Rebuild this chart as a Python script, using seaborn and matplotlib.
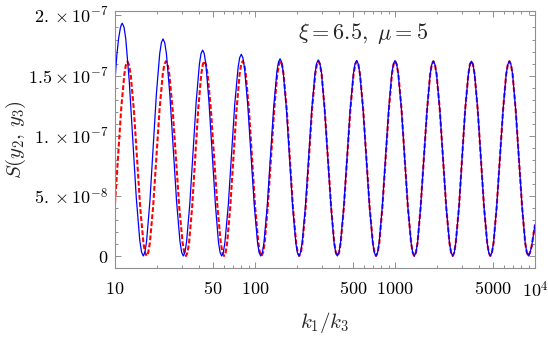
import numpy as np
import pandas as pd
import matplotlib
matplotlib.use("Agg")
import matplotlib.pyplot as plt
from matplotlib.ticker import FixedLocator, FixedFormatter, NullFormatter
import seaborn as sns

# ---- data (x as log10(k1/k3), y in units of 1e-7) ----
blue_log_k = [
    1.000, 1.013, 1.026, 1.039, 1.046, 1.052,
    1.0645, 1.077, 1.102, 1.127, 1.152, 1.177, 1.1895, 1.202,
    1.2138, 1.2255, 1.249, 1.2725, 1.296, 1.3195, 1.3313, 1.343,
    1.3551, 1.367, 1.391, 1.4155, 1.440, 1.464, 1.4759, 1.488,
    1.4995, 1.511, 1.534, 1.557, 1.580, 1.603, 1.6145, 1.626,
    1.6373, 1.649, 1.671, 1.694, 1.717, 1.739, 1.7507, 1.762,
    1.7737, 1.785, 1.809, 1.832, 1.855, 1.879, 1.8903, 1.902,
    1.9136, 1.925, 1.948, 1.9715, 1.995, 2.018, 2.0294, 2.041,
    2.0525, 2.064, 2.087, 2.110, 2.133, 2.156, 2.1675, 2.179,
    2.1903, 2.2015, 2.224, 2.2465, 2.269, 2.2915, 2.3028, 2.314,
    2.3255, 2.337, 2.360, 2.383, 2.406, 2.429, 2.4405, 2.452,
    2.4633, 2.475, 2.497, 2.520, 2.543, 2.565, 2.5767, 2.588,
    2.5995, 2.611, 2.634, 2.657, 2.680, 2.703, 2.7145, 2.726,
    2.7375, 2.749, 2.772, 2.795, 2.818, 2.841, 2.8525, 2.864,
    2.8753, 2.887, 2.909, 2.932, 2.955, 2.977, 2.9887, 3.000,
    3.0115, 3.023, 3.046, 3.069, 3.092, 3.115, 3.1265, 3.138,
    3.1493, 3.161, 3.183, 3.206, 3.229, 3.251, 3.2627, 3.274,
    3.2855, 3.297, 3.320, 3.343, 3.366, 3.389, 3.4005, 3.412,
    3.4232, 3.434, 3.457, 3.479, 3.501, 3.524, 3.5348, 3.546,
    3.5573, 3.5685, 3.591, 3.6135, 3.636, 3.6585, 3.6698, 3.681,
    3.6923, 3.704, 3.726, 3.749, 3.772, 3.794, 3.8057, 3.817,
    3.8283, 3.840, 3.862, 3.885, 3.908, 3.930, 3.9417, 3.953,
    3.9643, 3.976, 4.000,
]
blue_S_e7 = [
    1.46, 1.67, 1.81, 1.90, 1.925, 1.935,
    1.902, 1.805, 1.451, 0.968, 0.484, 0.130, 0.033, 0.000,
    0.031, 0.121, 0.451, 0.903, 1.354, 1.684, 1.774, 1.805,
    1.774, 1.684, 1.354, 0.903, 0.451, 0.121, 0.031, 0.000,
    0.029, 0.115, 0.428, 0.856, 1.284, 1.597, 1.683, 1.712,
    1.683, 1.597, 1.284, 0.856, 0.428, 0.115, 0.029, 0.000,
    0.029, 0.112, 0.419, 0.839, 1.258, 1.565, 1.648, 1.677,
    1.648, 1.565, 1.258, 0.839, 0.419, 0.112, 0.029, 0.000,
    0.028, 0.110, 0.410, 0.820, 1.230, 1.530, 1.612, 1.640,
    1.612, 1.530, 1.230, 0.820, 0.410, 0.110, 0.028, 0.000,
    0.028, 0.109, 0.408, 0.815, 1.223, 1.521, 1.602, 1.630,
    1.602, 1.521, 1.223, 0.815, 0.408, 0.109, 0.028, 0.000,
    0.028, 0.109, 0.406, 0.813, 1.219, 1.516, 1.597, 1.625,
    1.597, 1.516, 1.219, 0.813, 0.406, 0.109, 0.028, 0.000,
    0.028, 0.109, 0.406, 0.813, 1.219, 1.516, 1.597, 1.625,
    1.597, 1.516, 1.219, 0.813, 0.406, 0.109, 0.028, 0.000,
    0.028, 0.109, 0.405, 0.810, 1.215, 1.511, 1.592, 1.620,
    1.592, 1.511, 1.215, 0.810, 0.405, 0.109, 0.028, 0.000,
    0.028, 0.109, 0.405, 0.810, 1.215, 1.511, 1.592, 1.620,
    1.592, 1.511, 1.215, 0.810, 0.405, 0.109, 0.028, 0.000,
    0.028, 0.109, 0.405, 0.810, 1.215, 1.511, 1.592, 1.620,
    1.592, 1.511, 1.215, 0.810, 0.405, 0.109, 0.028, 0.000,
    0.028, 0.08, 0.26,
]

red_log_k = [
    1.000, 1.023, 1.045, 1.067, 1.078, 1.089,
    1.1004, 1.112, 1.135, 1.1575, 1.180, 1.203, 1.2146, 1.226,
    1.2375, 1.249, 1.272, 1.295, 1.318, 1.341, 1.3525, 1.364,
    1.3759, 1.388, 1.412, 1.4355, 1.459, 1.483, 1.4951, 1.507,
    1.5179, 1.529, 1.551, 1.5725, 1.594, 1.616, 1.6271, 1.638,
    1.6498, 1.6615, 1.685, 1.7085, 1.732, 1.7555, 1.7673, 1.779,
    1.7901, 1.801, 1.823, 1.8455, 1.868, 1.890, 1.9009, 1.912,
    1.9232, 1.934, 1.957, 1.979, 2.001, 2.024, 2.0348, 2.046,
    2.0573, 2.069, 2.091, 2.114, 2.137, 2.159, 2.1707, 2.182,
    2.1932, 2.204, 2.227, 2.249, 2.271, 2.294, 2.3048, 2.316,
    2.3274, 2.339, 2.362, 2.385, 2.407, 2.430, 2.4416, 2.453,
    2.4643, 2.476, 2.498, 2.521, 2.544, 2.566, 2.5777, 2.589,
    2.6005, 2.612, 2.635, 2.658, 2.681, 2.704, 2.7155, 2.727,
    2.7385, 2.750, 2.773, 2.796, 2.819, 2.842, 2.8535, 2.865,
    2.8763, 2.888, 2.910, 2.933, 2.956, 2.978, 2.9897, 3.001,
    3.0124, 3.024, 3.047, 3.0695, 3.092, 3.115, 3.1265, 3.138,
    3.1493, 3.161, 3.183, 3.206, 3.229, 3.251, 3.2627, 3.274,
    3.2855, 3.297, 3.320, 3.343, 3.366, 3.389, 3.4005, 3.412,
    3.4232, 3.434, 3.457, 3.479, 3.501, 3.524, 3.5348, 3.546,
    3.5573, 3.5685, 3.591, 3.6135, 3.636, 3.6585, 3.6698, 3.681,
    3.6923, 3.704, 3.726, 3.749, 3.772, 3.794, 3.8057, 3.817,
    3.8283, 3.840, 3.862, 3.885, 3.908, 3.930, 3.9417, 3.953,
    3.9643, 3.976, 4.000,
]
red_S_e7 = [
    0.44, 0.85, 1.236, 1.513, 1.59, 1.615,
    1.588, 1.507, 1.211, 0.808, 0.404, 0.108, 0.027, 0.000,
    0.028, 0.109, 0.405, 0.810, 1.215, 1.511, 1.592, 1.620,
    1.592, 1.511, 1.215, 0.810, 0.405, 0.109, 0.028, 0.000,
    0.028, 0.109, 0.405, 0.810, 1.215, 1.511, 1.592, 1.620,
    1.592, 1.511, 1.215, 0.810, 0.405, 0.109, 0.028, 0.000,
    0.028, 0.109, 0.405, 0.810, 1.215, 1.511, 1.592, 1.620,
    1.592, 1.511, 1.215, 0.810, 0.405, 0.109, 0.028, 0.000,
    0.028, 0.109, 0.405, 0.810, 1.215, 1.511, 1.592, 1.620,
    1.592, 1.511, 1.215, 0.810, 0.405, 0.109, 0.028, 0.000,
    0.028, 0.109, 0.405, 0.810, 1.215, 1.511, 1.592, 1.620,
    1.592, 1.511, 1.215, 0.810, 0.405, 0.109, 0.028, 0.000,
    0.028, 0.109, 0.405, 0.810, 1.215, 1.511, 1.592, 1.620,
    1.592, 1.511, 1.215, 0.810, 0.405, 0.109, 0.028, 0.000,
    0.028, 0.109, 0.405, 0.810, 1.215, 1.511, 1.592, 1.620,
    1.592, 1.511, 1.215, 0.810, 0.405, 0.109, 0.028, 0.000,
    0.028, 0.109, 0.405, 0.810, 1.215, 1.511, 1.592, 1.620,
    1.592, 1.511, 1.215, 0.810, 0.405, 0.109, 0.028, 0.000,
    0.028, 0.109, 0.405, 0.810, 1.215, 1.511, 1.592, 1.620,
    1.592, 1.511, 1.215, 0.810, 0.405, 0.109, 0.028, 0.000,
    0.028, 0.109, 0.405, 0.810, 1.215, 1.511, 1.592, 1.620,
    1.592, 1.511, 1.215, 0.810, 0.405, 0.109, 0.028, 0.000,
    0.028, 0.08, 0.26,
]

x_major = [10, 50, 100, 500, 1000, 5000, 10000]
x_major_labels = [r"$10$", r"$50$", r"$100$", r"$500$", r"$1000$", r"$5000$", r"$10^{4}$"]
y_major = [0.0, 5e-8, 1e-7, 1.5e-7, 2e-7]
y_major_labels = [r"$0$", r"$5.\times10^{-8}$", r"$1.\times10^{-7}$",
                  r"$1.5\times10^{-7}$", r"$2.\times10^{-7}$"]
annotation = r"$\xi = 6.5,\ \mu = 5$"

# ---- build frames ----
n = min(len(blue_log_k), len(blue_S_e7))
blue_df = pd.DataFrame({"k": 10 ** np.array(blue_log_k[:n]), "S": np.array(blue_S_e7[:n]) * 1e-7})
m = min(len(red_log_k), len(red_S_e7))
red_df = pd.DataFrame({"k": 10 ** np.array(red_log_k[:m]), "S": np.array(red_S_e7[:m]) * 1e-7})

sns.set_theme(style="white")
plt.rcParams["mathtext.fontset"] = "cm"
plt.rcParams["font.family"] = ["DejaVu Serif"]

fig = plt.figure(figsize=(5.48, 3.37), dpi=100)
ax = fig.add_axes([115 / 548, 1 - 268 / 337, 420 / 548, 257 / 337])

sns.lineplot(data=red_df, x="k", y="S", ax=ax, color="#ff0000", linewidth=1.5,
             linestyle=(0, (2.3, 1.1)), estimator=None, sort=False)
sns.lineplot(data=blue_df, x="k", y="S", ax=ax, color="#0000ff", linewidth=0.9,
             estimator=None, sort=False)

ax.set_xscale("log")
ax.set_xlim(10, 10000)
ax.set_ylim(-1.0e-8, 2.037e-7)

ax.xaxis.set_major_locator(FixedLocator(x_major))
ax.xaxis.set_major_formatter(FixedFormatter(x_major_labels))
minor_x = [mm * d for d in (10, 100, 1000) for mm in range(2, 10) if mm != 5]
ax.xaxis.set_minor_locator(FixedLocator(minor_x))
ax.xaxis.set_minor_formatter(NullFormatter())

ax.yaxis.set_major_locator(FixedLocator(y_major))
ax.yaxis.set_major_formatter(FixedFormatter(y_major_labels))
ax.yaxis.set_minor_locator(FixedLocator([i * 1e-8 for i in range(-1, 21) if i % 5 != 0]))

frame_col = "#8f8f8f"
for s in ax.spines.values():
    s.set_visible(True)
    s.set_color(frame_col)
    s.set_linewidth(0.8)

ax.tick_params(which="both", direction="in", top=True, right=True, bottom=True, left=True,
               color=frame_col, width=0.7, labelcolor="black")
ax.tick_params(which="major", length=4.5)
ax.tick_params(which="minor", length=2.5)
ax.tick_params(axis="x", which="major", labelsize=13, pad=9)
ax.tick_params(axis="y", which="major", labelsize=13, pad=5)

ax.set_xlabel(r"$k_1/k_3$", fontsize=15)
ax.set_ylabel(r"$S(y_2,\, y_3)$", fontsize=15)
ax.xaxis.set_label_coords(0.5, -0.165)
ax.yaxis.set_label_coords(-0.207, 0.5)

ax.text(0.436, 0.914, annotation, transform=ax.transAxes, fontsize=16,
        ha="left", va="center")

fig.savefig("out.png", dpi=100)
